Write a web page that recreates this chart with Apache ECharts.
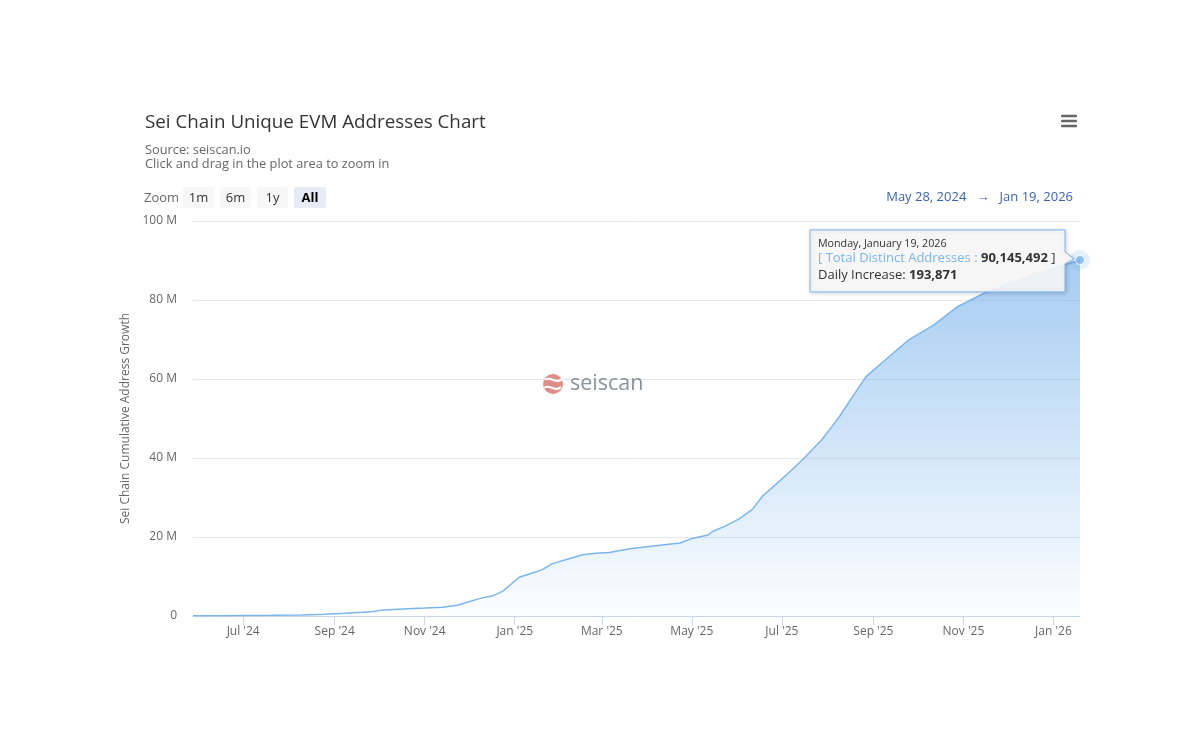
<!DOCTYPE html>
<html><head><meta charset="utf-8">
<script src="https://cdn.jsdelivr.net/npm/echarts@6/dist/echarts.min.js"></script>
<style>html,body{margin:0;padding:0;background:#fff}#c{width:1200px;height:753px}</style>
</head><body><div id="c"></div>
<script>
const chartTitle = 'Sei Chain Unique EVM Addresses Chart';
const subtitleLines = ['Source: seiscan.io', 'Click and drag in the plot area to zoom in'];
const yAxisName = 'Sei Chain Cumulative Address Growth';
const seriesName = 'Total Distinct Addresses';
const watermarkText = 'seiscan';
const zoomLabel = 'Zoom';
const zoomButtons = ['1m', '6m', '1y', 'All'];
const selectedZoom = 'All';

const dates = [
  '2024-05-28','2024-06-15','2024-07-01','2024-07-20','2024-08-10','2024-08-25','2024-09-08','2024-09-20',
  '2024-09-26','2024-10-04','2024-10-21','2024-11-01','2024-11-13','2024-11-23','2024-12-01','2024-12-08',
  '2024-12-17','2024-12-24','2025-01-04','2025-01-13','2025-01-20','2025-01-26','2025-02-05','2025-02-16',
  '2025-02-25','2025-03-06','2025-03-20','2025-04-05','2025-04-23','2025-05-01','2025-05-12','2025-05-15',
  '2025-05-25','2025-06-02','2025-06-11','2025-06-18','2025-06-26','2025-07-04','2025-07-10','2025-07-17',
  '2025-07-28','2025-08-04','2025-08-09','2025-08-18','2025-08-27','2025-09-09','2025-09-25','2025-10-12',
  '2025-10-28','2025-11-15','2025-12-01','2025-12-20','2026-01-05','2026-01-19'
];
const totals = [
  50000, 80000, 120000, 180000, 250000, 450000, 700000, 950000,
  1100000, 1550000, 1850000, 2000000, 2200000, 2700000, 3600000, 4400000,
  5100000, 6300000, 9800000, 10900000, 11800000, 13200000, 14300000, 15500000,
  15900000, 16100000, 17000000, 17700000, 18500000, 19600000, 20500000, 21400000,
  23000000, 24600000, 27000000, 30400000, 33000000, 35700000, 37800000, 40300000,
  44600000, 48000000, 50500000, 55600000, 60600000, 64800000, 69900000, 73700000,
  78300000, 81700000, 84000000, 86600000, 88500000, 90145492
];
const dailyIncrease = 193871;
const xTickDates = ['2024-07-01','2024-09-01','2024-11-01','2025-01-01','2025-03-01','2025-05-01','2025-07-01','2025-09-01','2025-11-01','2026-01-01'];
const yTicks = [0, 20000000, 40000000, 60000000, 80000000, 100000000];

const MS = ['Jan','Feb','Mar','Apr','May','Jun','Jul','Aug','Sep','Oct','Nov','Dec'];
const ML = ['January','February','March','April','May','June','July','August','September','October','November','December'];
const WD = ['Sunday','Monday','Tuesday','Wednesday','Thursday','Friday','Saturday'];
const ts = d => new Date(d + 'T00:00:00Z').getTime();
const fmtShort = t => { const d = new Date(t); return MS[d.getUTCMonth()] + ' ' + d.getUTCDate() + ', ' + d.getUTCFullYear(); };
const fmtLong = t => { const d = new Date(t); return WD[d.getUTCDay()] + ', ' + ML[d.getUTCMonth()] + ' ' + d.getUTCDate() + ', ' + d.getUTCFullYear(); };
const fmtTick = t => { const d = new Date(t); return MS[d.getUTCMonth()] + " '" + String(d.getUTCFullYear()).slice(2); };
const fmtNum = n => Math.round(n).toLocaleString('en-US');

const FONT = '"Open Sans", "Noto Sans", sans-serif';
const seriesData = dates.map((d, i) => [ts(d), totals[i]]);
const lastPt = seriesData[seriesData.length - 1];
const blue = '#7cb5ec';
const xTickTs = xTickDates.map(ts);

const chart = echarts.init(document.getElementById('c'), null, {renderer: 'canvas'});
const option = {
  animation: false,
  backgroundColor: '#ffffff',
  textStyle: {fontFamily: FONT},
  title: {
    text: chartTitle,
    subtext: subtitleLines.join('\n'),
    left: 145, top: 113, padding: 0, itemGap: 11,
    textStyle: {fontFamily: FONT, fontSize: 18.8, fontWeight: 'normal', color: '#333333'},
    subtextStyle: {fontFamily: FONT, fontSize: 12.8, color: '#666666', lineHeight: 14}
  },
  grid: {left: 193, right: 120, top: 221, bottom: 137, containLabel: false},
  xAxis: {
    type: 'value',
    min: ts(dates[0]), max: lastPt[0],
    axisLine: {lineStyle: {color: '#ccd6eb', width: 1}},
    axisTick: {show: true, length: 9, lineStyle: {color: '#ccd6eb'}, customValues: xTickTs},
    axisLabel: {color: '#666666', fontSize: 12, fontFamily: FONT, margin: 10, customValues: xTickTs, formatter: v => fmtTick(v), hideOverlap: false},
    splitLine: {show: false}
  },
  yAxis: {
    type: 'value',
    min: yTicks[0], max: yTicks[yTicks.length - 1], interval: yTicks[1] - yTicks[0],
    name: yAxisName, nameLocation: 'middle', nameGap: 60, nameRotate: 90,
    nameTextStyle: {color: '#666666', fontSize: 12, fontFamily: FONT},
    axisLine: {show: false}, axisTick: {show: false},
    axisLabel: {color: '#666666', fontSize: 12, fontFamily: FONT, margin: 16, formatter: v => v === 0 ? '0' : (v / 1e6) + ' M'},
    splitLine: {lineStyle: {color: '#e6e6e6', width: 1}}
  },
  series: [
    {
      name: seriesName, type: 'line', data: seriesData, showSymbol: false, symbol: 'none',
      lineStyle: {color: blue, width: 1.5},
      areaStyle: {color: new echarts.graphic.LinearGradient(0, 0, 0, 1, [
        {offset: 0, color: 'rgba(124,181,236,0.98)'},
        {offset: 1, color: 'rgba(124,181,236,0.04)'}
      ])},
      z: 2
    },
    {
      type: 'scatter', data: [lastPt], symbolSize: 20, silent: true,
      itemStyle: {color: 'rgba(124,181,236,0.25)'}, z: 3
    },
    {
      type: 'scatter', data: [lastPt], symbolSize: 9, silent: true,
      itemStyle: {color: blue, borderColor: '#ffffff', borderWidth: 1}, z: 4
    }
  ]
};
chart.setOption(option);

const pix = chart.convertToPixel({seriesIndex: 0}, lastPt);
const px = pix[0], py = pix[1];
const tR = px - 15, tT = py - 30, tL = tR - 255, tB = tT + 62;
const callout = [[tL, tT], [tR, tT], [tR, py - 8], [px - 6, py - 1], [tR, py + 4], [tR, tB], [tL, tB]];

const graphics = [];
graphics.push({type: 'text', x: 144, y: 198, style: {text: zoomLabel, fill: '#666666', font: '13px ' + FONT, textVerticalAlign: 'middle'}});
const btnX = [183, 220, 257, 294];
zoomButtons.forEach((b, i) => {
  const sel = b === selectedZoom;
  const w = sel ? 32 : 31;
  graphics.push({type: 'rect', shape: {x: btnX[i], y: 187, width: w, height: 21, r: 2}, style: {fill: sel ? '#e6ebf5' : '#f7f7f7'}});
  graphics.push({type: 'text', x: btnX[i] + w / 2, y: 198, style: {text: b, fill: sel ? '#000000' : '#333333', font: (sel ? 'bold ' : '') + '13px ' + FONT, textAlign: 'center', textVerticalAlign: 'middle'}});
});
graphics.push({type: 'text', x: 1073, y: 197, style: {text: fmtShort(seriesData[0][0]) + '   \u2192   ' + fmtShort(lastPt[0]), fill: '#3d62ad', font: '13px ' + FONT, textAlign: 'right', textVerticalAlign: 'middle'}});
[116, 121, 126].forEach(y => graphics.push({type: 'rect', shape: {x: 1061, y: y - 1.25, width: 16, height: 2.6, r: 1}, style: {fill: '#666666'}}));
graphics.push({type: 'circle', shape: {cx: 553, cy: 384, r: 10}, style: {fill: '#df8d88'}, z: 1});
graphics.push({type: 'bezierCurve', shape: {x1: 545, y1: 380, cpx1: 549, cpy1: 375, cpx2: 557, cpy2: 385, x2: 562, y2: 379}, style: {stroke: '#ffffff', lineWidth: 2, fill: null}, z: 1});
graphics.push({type: 'bezierCurve', shape: {x1: 544, y1: 388, cpx1: 548, cpy1: 383, cpx2: 556, cpy2: 393, x2: 561, y2: 387}, style: {stroke: '#ffffff', lineWidth: 2, fill: null}, z: 1});
graphics.push({type: 'text', x: 570, y: 384, style: {text: watermarkText, fill: '#8a9199', font: '21.5px ' + FONT, textVerticalAlign: 'middle'}, z: 1});
graphics.push({type: 'polygon', shape: {points: callout}, style: {fill: 'rgba(250,250,250,0.9)', stroke: blue, lineWidth: 1, shadowBlur: 4, shadowColor: 'rgba(0,0,0,0.18)', shadowOffsetX: 1, shadowOffsetY: 1}, z: 100});
graphics.push({type: 'text', x: tL + 8, y: tT + 14, style: {text: fmtLong(lastPt[0]), fill: '#333333', font: '10.7px ' + FONT, textVerticalAlign: 'middle'}, z: 101});
graphics.push({type: 'text', x: tL + 8, y: tT + 28.5, style: {
  text: '{a|[ ' + seriesName + ' : }{v|' + fmtNum(lastPt[1]) + '}{c| ]}',
  textVerticalAlign: 'middle',
  rich: {
    a: {fill: blue, fontSize: 13, fontFamily: FONT},
    v: {fill: '#333333', fontSize: 13, fontWeight: 'bold', fontFamily: FONT},
    c: {fill: '#333333', fontSize: 13, fontFamily: FONT}
  }
}, z: 101});
graphics.push({type: 'text', x: tL + 8, y: tT + 45, style: {
  text: '{a|Daily Increase: }{v|' + fmtNum(dailyIncrease) + '}',
  textVerticalAlign: 'middle',
  rich: {
    a: {fill: '#333333', fontSize: 13, fontFamily: FONT},
    v: {fill: '#333333', fontSize: 13, fontWeight: 'bold', fontFamily: FONT}
  }
}, z: 101});
chart.setOption({graphic: graphics});
</script>
</body></html>
